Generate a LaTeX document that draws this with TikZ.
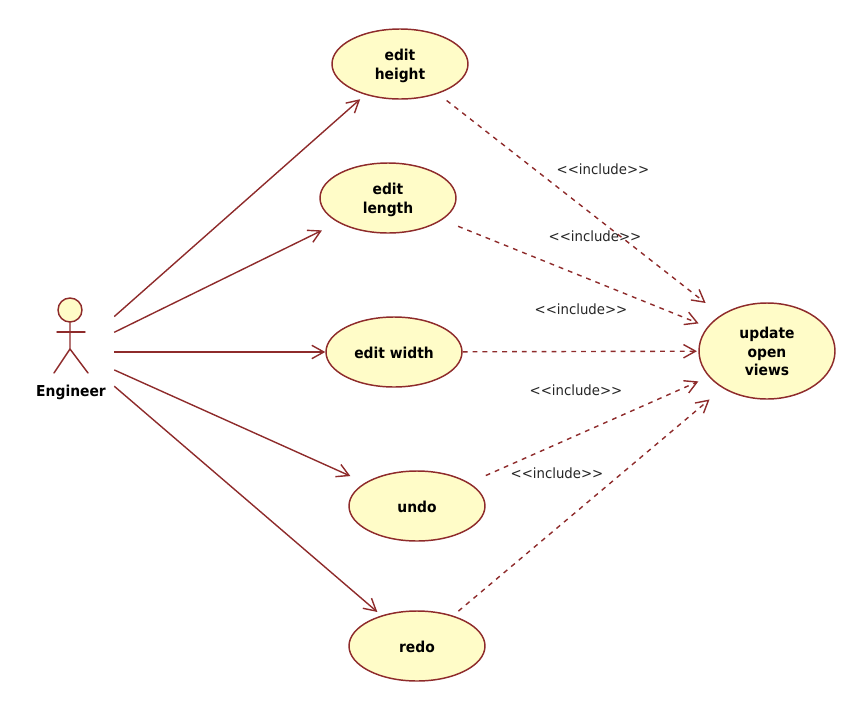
\documentclass[tikz,border=0pt]{standalone}
\usepackage{fontspec}
\setmainfont{DejaVu Sans}
\newfontfamily\ucfont[FakeStretch=0.92]{DejaVu Sans Bold}
\newfontfamily\stfont[FakeStretch=0.94]{DejaVu Sans}
\usetikzlibrary{arrows.meta,shapes.geometric}
\definecolor{umlline}{HTML}{8E2B2B}
\definecolor{umlfill}{HTML}{FFFCC8}
\newcommand\ucname[1]{\raisebox{-1.8pt}[\height][\depth]{\begin{tabular}{@{}c@{}}#1\end{tabular}}}
\tikzset{
  usecase/.style={ellipse,draw=umlline,fill=umlfill,line width=1.1pt,inner sep=0pt,
    minimum width=102pt,minimum height=52.5pt,
    font=\fontsize{11.3pt}{14pt}\ucfont,text=black},
  actorbox/.style={rectangle,inner sep=0pt,minimum width=63pt,minimum height=81pt},
  stick/.style={draw=umlline,line width=1.1pt,line cap=round},
  assoc/.style={draw=umlline,line width=1.05pt,-{Straight Barb[length=9pt,width=10pt,line width=1.05pt]}},
  incl/.style={assoc,dash pattern=on 3.6pt off 3.8pt},
  stereo/.style={font=\fontsize{10.6pt}{12pt}\stfont,text=black!85,inner sep=0pt},
  actorname/.style={font=\fontsize{11.3pt}{13pt}\ucfont,text=black,inner sep=0pt}
}
\begin{document}
\begin{tikzpicture}[x=0.75pt,y=-0.75pt]
\useasboundingbox (0,0) rectangle (864,711);
\node[usecase] (editheight) at (400,64) {\ucname{edit\\height}};
\node[usecase] (editlength) at (388,198) {\ucname{edit\\length}};
\node[usecase] (editwidth) at (394,352) {\ucname{edit width}};
\node[usecase] (undo) at (417,506) {\ucname{undo}};
\node[usecase] (redo) at (417,646) {\ucname{redo}};
\node[usecase,minimum height=72pt] (update) at (767,351) {\ucname{update\\open\\views}};
% actor
\node[actorbox] (actor) at (72,352) {};
\node[circle,draw=umlline,fill=umlfill,line width=1.1pt,inner sep=0pt,minimum size=18pt] (head) at (70,310) {};
\coordinate (hip) at (70,349);
\coordinate (armL) at (57,332);
\coordinate (armR) at (85,332);
\coordinate (footL) at (54,373);
\coordinate (footR) at (88,373);
\draw[stick] (head) -- (hip) -- (footL);
\draw[stick] (hip) -- (footR);
\draw[stick] (armL) -- (armR);
\node[actorname] (engineer) at (71,392) {Engineer};
% associations
\draw[assoc,shorten >=5pt] (actor.40.6) -- (editheight);
\draw[assoc,shorten >=13.4pt] (actor.25.5) -- (editlength);
\draw[assoc] (actor.0) -- (editwidth);
\draw[assoc,shorten >=12pt] (actor.-23.2) -- (undo);
\draw[assoc,shorten >=4pt] (actor.-39.8) -- (redo);
% includes
\draw[incl,shorten <=8.2pt,shorten >=14.5pt] (editheight) -- (update);
\draw[incl,shorten <=12.8pt,shorten >=7pt] (editlength) -- (update);
\draw[incl,shorten >=1pt] (editwidth) -- (update);
\draw[incl,shorten <=13.5pt,shorten >=8.5pt] (undo) -- (update);
\draw[incl,shorten <=5.2pt,shorten >=13pt] (redo) -- (update);
% stereotypes
\node[stereo] (l1) at (603,169) {<{}<include>{}>};
\node[stereo] (l2) at (595,236) {<{}<include>{}>};
\node[stereo] (l3) at (581,309) {<{}<include>{}>};
\node[stereo] (l4) at (576,390) {<{}<include>{}>};
\node[stereo] (l5) at (557,473) {<{}<include>{}>};
\end{tikzpicture}
\end{document}
